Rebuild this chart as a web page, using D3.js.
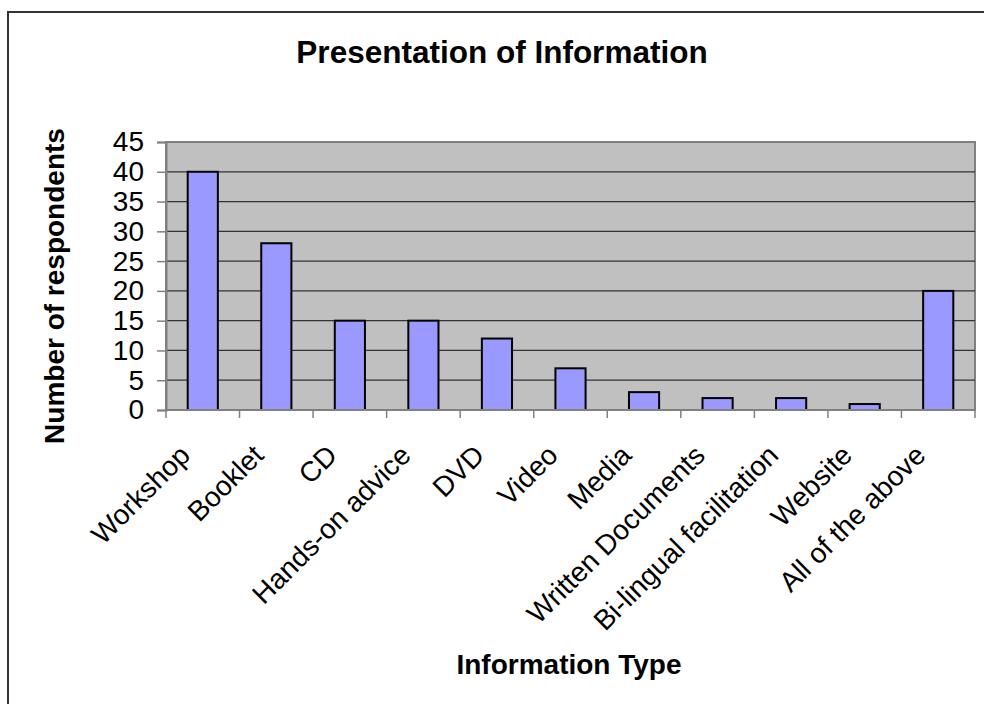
<!DOCTYPE html>
<html>
<head>
<meta charset="utf-8">
<script src="https://cdn.jsdelivr.net/npm/d3@7"></script>
<style>
  body { margin: 0; background: #fff; }
  svg { display: block; font-family: Arial, "Liberation Sans", sans-serif; }
</style>
</head>
<body>
<svg id="chart" width="984" height="704"></svg>
<script>
// values
let categories = ["Workshop", "Booklet", "CD", "Hands-on advice", "DVD", "Video", "Media",
  "Written Documents", "Bi-lingual facilitation", "Website", "All of the above"];
let respondents = [40, 28, 15, 15, 12, 7, 3, 2, 2, 1, 20];
let yTicks = [0, 5, 10, 15, 20, 25, 30, 35, 40, 45];

let svg = d3.select("#chart");

// chart border (right and bottom run off the picture)
svg.append("rect")
  .attr("x", 8).attr("y", 12)
  .attr("width", 1000).attr("height", 720)
  .attr("fill", "none")
  .attr("stroke", "#333")
  .attr("stroke-width", 2);

let margin = { top: 142, left: 166 };
let plotWidth = 975 - margin.left;
let plotHeight = 410 - margin.top;

let x = d3.scaleBand()
  .domain(categories)
  .range([0, plotWidth])
  .paddingInner(0.59)
  .paddingOuter(0.295);

let y = d3.scaleLinear()
  .domain([0, 45])
  .range([plotHeight, 0]);

let plot = svg.append("g")
  .attr("transform", "translate(" + margin.left + "," + margin.top + ")");

plot.append("rect")
  .attr("width", plotWidth)
  .attr("height", plotHeight)
  .attr("fill", "#c0c0c0")
  .attr("stroke", "#808080")
  .attr("stroke-width", 2);

// gridlines
plot.append("g")
  .selectAll("line")
  .data(yTicks.filter(d => d > 0 && d < 45))
  .join("line")
    .attr("x1", 0).attr("x2", plotWidth)
    .attr("y1", d => y(d)).attr("y2", d => y(d))
    .attr("stroke", "#333")
    .attr("stroke-width", 1.2);

// bars
plot.append("g")
  .selectAll("rect")
  .data(categories)
  .join("rect")
    .attr("x", d => x(d))
    .attr("y", (d, i) => y(respondents[i]))
    .attr("width", x.bandwidth())
    .attr("height", (d, i) => y(0) - y(respondents[i]))
    .attr("fill", "#9999ff")
    .attr("stroke", "#000")
    .attr("stroke-width", 2);

// y axis
let yGroup = plot.append("g")
  .call(d3.axisLeft(y).tickValues(yTicks).tickSize(9).tickPadding(13));
yGroup.select(".domain").attr("stroke", "#808080").attr("stroke-width", 2);
yGroup.selectAll(".tick line").attr("stroke", "#808080").attr("stroke-width", 1.5);
yGroup.selectAll(".tick text")
  .attr("font-size", 28)
  .attr("font-family", "Arial, 'Liberation Sans', sans-serif")
  .attr("fill", "#000");

// x axis: ticks sit between categories
let step = x.step();
let xGroup = plot.append("g")
  .attr("transform", "translate(0," + plotHeight + ")");
xGroup.append("line")
  .attr("x1", 0).attr("x2", plotWidth)
  .attr("stroke", "#808080").attr("stroke-width", 2);
xGroup.selectAll("line.tick")
  .data(d3.range(categories.length + 1))
  .join("line")
    .attr("class", "tick")
    .attr("x1", d => d * step).attr("x2", d => d * step)
    .attr("y1", 0).attr("y2", 8)
    .attr("stroke", "#808080")
    .attr("stroke-width", 1.5);
xGroup.selectAll("text")
  .data(categories)
  .join("text")
    .attr("transform", d => "translate(" + (x(d) + x.bandwidth() / 2 - 11) + ",47) rotate(-45)")
    .attr("text-anchor", "end")
    .attr("font-size", 28)
    .attr("fill", "#000")
    .text(d => d);

// titles
svg.append("text")
  .attr("x", 502).attr("y", 63)
  .attr("text-anchor", "middle")
  .attr("font-size", 31.5)
  .attr("font-weight", "bold")
  .text("Presentation of Information");

svg.append("text")
  .attr("x", 569).attr("y", 674)
  .attr("text-anchor", "middle")
  .attr("font-size", 28)
  .attr("font-weight", "bold")
  .text("Information Type");

svg.append("text")
  .attr("transform", "translate(64,286) rotate(-90)")
  .attr("text-anchor", "middle")
  .attr("font-size", 28)
  .attr("font-weight", "bold")
  .text("Number of respondents");
</script>
</body>
</html>
